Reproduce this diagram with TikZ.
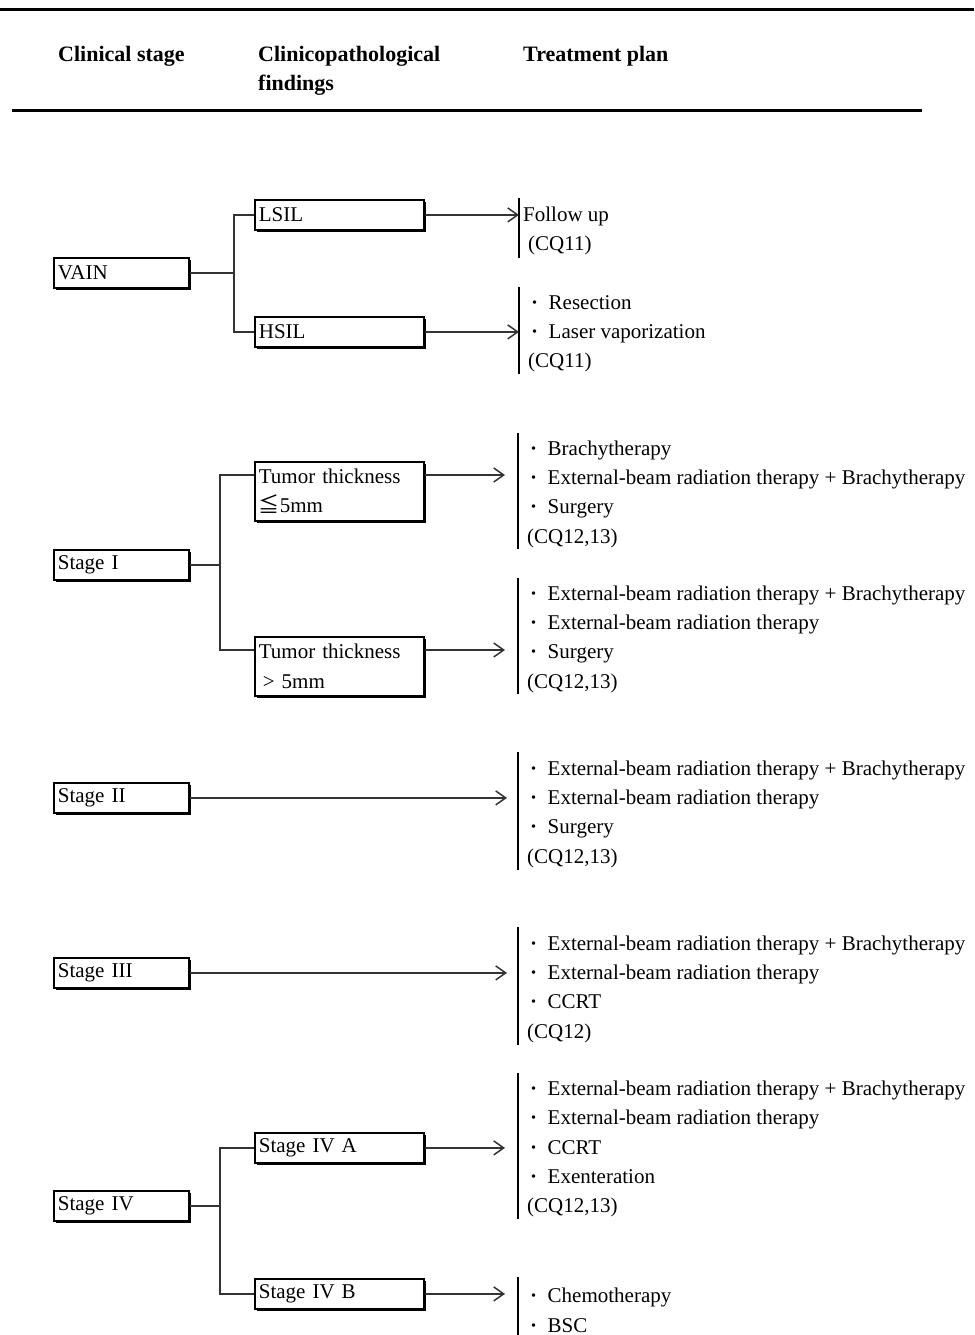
\documentclass[tikz,border=0pt]{standalone}
\usepackage{fontspec}
\setmainfont{Liberation Serif}
\newfontfamily\jpfont{Noto Sans CJK JP}
\usetikzlibrary{arrows.meta,shadows}
\tikzset{
  stagebox/.style={draw,fill=white,line width=1.8pt,anchor=north west,align=left,
    inner xsep=4pt,inner ysep=0pt,minimum height=30pt,
    drop shadow={opacity=1,fill=black,shadow xshift=2.2pt,shadow yshift=-2.2pt}},
  plan/.style={anchor=north west,align=left,inner xsep=9pt,inner ysep=0pt,yshift=-3pt},
  conn/.style={line width=1.5pt,draw=black!80},
  arr/.style={conn,-{Straight Barb[length=10pt,width=14pt]}},
  bar/.style={line width=2pt},
  rule/.style={line width=3pt},
  head/.style={anchor=base west,align=left,inner xsep=0pt,font=\fontsize{22}{29}\selectfont\bfseries}
}
\newcommand{\Bul}{\hspace*{3pt}\textbf{·}\hspace{10.5pt}}
\newcommand{\EBRTB}{External-beam radiation therapy + Brachytherapy}
\newcommand{\EBRT}{External-beam radiation therapy}
\begin{document}
\begin{tikzpicture}[x=1pt,y=-1pt,font=\fontsize{21}{29.3}\selectfont]
\useasboundingbox (0,0) rectangle (974,1335);
% \draw[help lines] (0,0) grid[step=100] (974,1335);
\draw[rule] (0,10) -- (974,10);
\draw[rule] (12,111) -- (922,111);
\node[head] (h1) at (58,62) {Clinical stage};
\node[head] (h2) at (258,91) {Clinicopathological\\findings};
\node[head] (h3) at (523,62) {Treatment plan};
%
\node[stagebox,text width=127pt] (vain) at (53,257) {VAIN};
\node[stagebox,text width=127pt] (st1) at (53,549) {Stage I};
\node[stagebox,text width=127pt] (st2) at (53,782) {Stage II};
\node[stagebox,text width=127pt] (st3) at (53,957) {Stage III};
\node[stagebox,text width=127pt] (st4) at (53,1190) {Stage IV};
%
\node[stagebox,text width=161pt] (lsil) at (254,199) {LSIL};
\node[stagebox,text width=161pt] (hsil) at (254,316) {HSIL};
\node[stagebox,text width=161pt,minimum height=59pt] (thin) at (254,461) {Tumor thickness\\{\jpfont ≦}5mm};
\node[stagebox,text width=161pt,minimum height=59pt] (thick) at (254,636) {Tumor thickness\\\hspace*{4pt}> 5mm};
\node[stagebox,text width=161pt] (st4a) at (254,1132) {Stage IV A};
\node[stagebox,text width=161pt] (st4b) at (254,1278) {Stage IV B};
%
\node[plan,minimum height=60pt] (p1) at (519,198) {\hspace*{-5pt}Follow up\\(CQ11)};
\node[plan,minimum height=87pt] (p2) at (519,287) {\Bul Resection\\\Bul Laser vaporization\\(CQ11)};
\node[plan,minimum height=116pt] (p3) at (518,433) {\Bul Brachytherapy\\\Bul \EBRTB\\\Bul Surgery\\(CQ12,13)};
\node[plan,minimum height=116pt] (p4) at (518,578) {\Bul \EBRTB\\\Bul \EBRT\\\Bul Surgery\\(CQ12,13)};
\node[plan,minimum height=118pt] (p5) at (518,752) {\Bul \EBRTB\\\Bul \EBRT\\\Bul Surgery\\(CQ12,13)};
\node[plan,minimum height=118pt] (p6) at (518,927) {\Bul \EBRTB\\\Bul \EBRT\\\Bul CCRT\\(CQ12)};
\node[plan,minimum height=146pt] (p7) at (518,1073) {\Bul \EBRTB\\\Bul \EBRT\\\Bul CCRT\\\Bul Exenteration\\(CQ12,13)};
\node[plan,minimum height=60pt] (p8) at (518,1277) {\Bul Chemotherapy\\\Bul BSC};
\foreach \p in {p1,p2,p3,p4,p5,p6,p7,p8}
  \draw[bar] ([yshift=3pt]\p.north west) -- ([yshift=3pt]\p.south west);
%
\coordinate (vfork) at ([xshift=44pt]vain.east);
\coordinate (s1fork) at ([xshift=30pt]st1.east);
\coordinate (s4fork) at ([xshift=30pt]st4.east);
\coordinate (thinin) at ([yshift=-14pt]thin.north west);
\coordinate (thinout) at ([yshift=-14pt]thin.north east);
\coordinate (thickin) at ([yshift=-14pt]thick.north west);
\coordinate (thickout) at ([yshift=-14pt]thick.north east);
%
\draw[conn] (vain.east) -- (vfork) |- (lsil.west);
\draw[conn] (vfork) |- (hsil.west);
\draw[conn] (st1.east) -- (s1fork) |- (thinin);
\draw[conn] (s1fork) |- (thickin);
\draw[conn] (st4.east) -- (s4fork) |- (st4a.west);
\draw[conn] (s4fork) |- (st4b.west);
%
\draw[arr] (lsil.east) -- (lsil.east -| p1.west);
\draw[arr] (hsil.east) -- (hsil.east -| p2.west);
\draw[arr,shorten >=13pt] (thinout) -- (thinout -| p3.west);
\draw[arr,shorten >=13pt] (thickout) -- (thickout -| p4.west);
\draw[arr,shorten >=11pt] (st2.east) -- (st2.east -| p5.west);
\draw[arr,shorten >=11pt] (st3.east) -- (st3.east -| p6.west);
\draw[arr,shorten >=13pt] (st4a.east) -- (st4a.east -| p7.west);
\draw[arr,shorten >=13pt] (st4b.east) -- (st4b.east -| p8.west);
\end{tikzpicture}
\end{document}
